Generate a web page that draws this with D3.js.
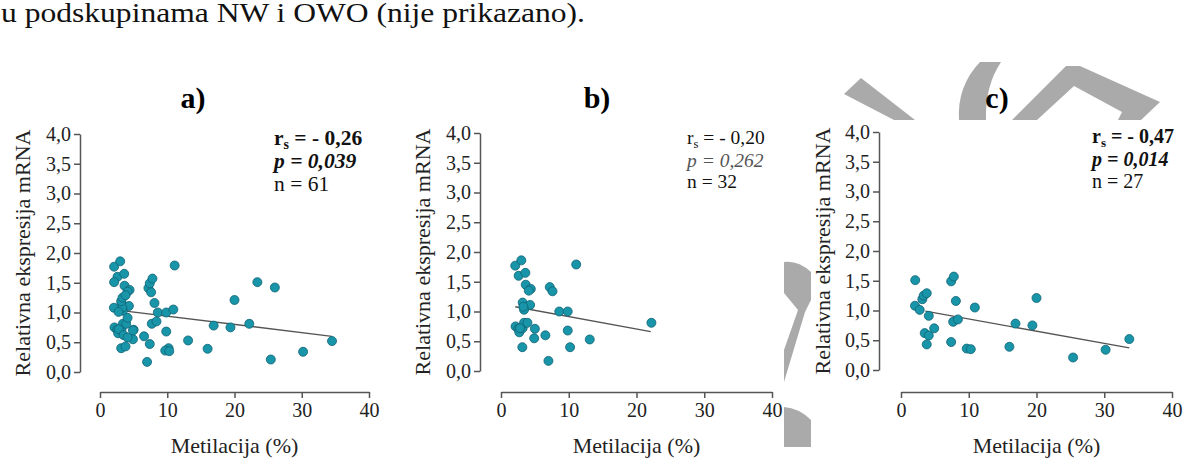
<!DOCTYPE html>
<html>
<head>
<meta charset="utf-8">
<script src="https://cdn.jsdelivr.net/npm/d3@7"></script>
<style>
  body { margin: 0; background: #fff; }
  svg { display: block; }
  svg text { font-family: "Liberation Serif", "Times New Roman", Times, "DejaVu Serif", serif; }
</style>
</head>
<body>
<svg id="chart" width="1187" height="460"></svg>
<script>
// ---- data ----
const topLine = "u podskupinama NW i OWO (nije prikazano).";
const panelTitles = ["a)", "b)", "c)"];
const xTicks = [0, 10, 20, 30, 40];
const yTicks = [0, 0.5, 1, 1.5, 2, 2.5, 3, 3.5, 4];
const xLabel = "Metilacija (%)";
const yLabel = "Relativna ekspresija mRNA";

// panel b: n = 32
const bMet = [2.1, 3.0, 2.6, 3.6, 3.65, 4.4, 4.1, 3.2, 4.3, 3.4, 3.3, 2.15, 2.55, 2.7, 3.2, 3.4,
              3.9, 3.15, 5.0, 4.9, 6.55, 7.0, 7.2, 7.6, 8.6, 9.85, 9.85, 10.2, 11.1, 13.1, 22.2, 2.8];
const bExp = [1.77, 1.86, 1.60, 1.65, 1.45, 1.38, 1.35, 1.15, 1.11, 1.03, 1.08, 0.75, 0.71, 0.65, 0.72, 0.81,
              0.81, 0.40, 0.71, 0.55, 0.60, 0.17, 1.41, 1.34, 1.00, 1.00, 0.68, 0.40, 1.79, 0.53, 0.81, 0.72];

// panel c: n = 27
const cMet = [2.1, 2.07, 2.76, 3.15, 3.35, 3.8, 3.5, 4.1, 3.8, 4.1, 4.9, 7.4, 7.8, 8.1, 7.7, 8.4,
              7.4, 9.7, 10.3, 10.9, 16.0, 16.9, 19.4, 20.0, 25.4, 30.2, 33.7];
const cExp = [1.51, 1.08, 1.01, 1.19, 1.25, 1.29, 0.62, 0.58, 0.43, 0.91, 0.70, 1.49, 1.57, 1.16, 0.81, 0.85,
              0.47, 0.36, 0.35, 1.05, 0.39, 0.78, 0.75, 1.21, 0.21, 0.34, 0.52];

// panel a: n = 61
const aMet = [2.1, 3.0, 2.6, 3.6, 3.65, 4.4, 4.1, 3.2, 4.3, 3.4, 3.3, 2.15, 2.55, 2.7, 3.2, 3.4,
              3.9, 3.15, 5.0, 4.9, 6.55, 7.0, 7.2, 7.6, 8.6, 9.85, 9.85, 10.2, 11.1, 13.1, 22.2, 2.8,
              2.1, 2.07, 2.76, 3.15, 3.35, 3.8, 3.5, 4.1, 3.8, 4.1, 4.9, 7.4, 7.8, 8.1, 7.7, 8.4,
              7.4, 9.7, 10.3, 10.9, 16.0, 16.9, 19.4, 20.0, 25.4, 30.2, 34.5, 23.4, 26.0];
const aExp = [1.77, 1.86, 1.60, 1.65, 1.45, 1.38, 1.35, 1.15, 1.11, 1.03, 1.08, 0.75, 0.71, 0.65, 0.72, 0.81,
              0.81, 0.40, 0.71, 0.55, 0.60, 0.17, 1.41, 1.34, 1.00, 1.00, 0.68, 0.40, 1.79, 0.53, 0.81, 0.72,
              1.51, 1.08, 1.01, 1.19, 1.25, 1.29, 0.62, 0.58, 0.43, 0.91, 0.70, 1.49, 1.57, 1.16, 0.81, 0.85,
              0.47, 0.36, 0.35, 1.05, 0.39, 0.78, 0.75, 1.21, 0.21, 0.34, 0.52, 1.51, 1.42];

// fitted line end points [x, y]
const aFit = [[2.0, 1.05], [34.5, 0.60]];
const bFit = [[2.1, 1.08], [22.1, 0.66]];
const cFit = [[3.6, 0.99], [33.7, 0.37]];

// statistics text
const aStats = ["- 0,26", "0,039", "61"];
const bStats = ["- 0,20", "0,262", "32"];
const cStats = ["- 0,47", "0,014", "27"];

// ---- layout ----
const svg = d3.select("#chart");
const serif = "\"Liberation Serif\", \"Times New Roman\", Times, \"DejaVu Serif\", serif";

// watermark pieces (grey, partly hidden behind the figure)
const wm = svg.append("g").attr("fill", "#aaaaaa").attr("fill-rule", "evenodd");
wm.append("path").attr("d", "M844,94 L861,78 L915,120 L894,120 Z");
wm.append("path").attr("d", "M980,62 L1001,62 Q985,86 986,120 L959,120 Q957,86 980,62 Z");
wm.append("path").attr("d", "M1012,120 L1066,66 L1080,66 L1160,102 L1141,120 Z M1037,120 L1074,86 L1122,112 L1118,120 Z");
wm.append("path").attr("d", "M784,262 Q798,260 811,272 L811,300 L805,312 L784,382 L784,350 L798,310 L784,293 Z");
wm.append("path").attr("d", "M784,407 Q799,408 811,420 L811,447 L784,447 Z");

svg.append("text")
  .attr("x", 1).attr("y", 22)
  .attr("font-family", serif).attr("font-size", 27).attr("fill", "#111")
  .attr("textLength", 584).attr("lengthAdjust", "spacingAndGlyphs")
  .text(topLine);

const panels = [
  { title: panelTitles[0], xs: aMet, ys: aExp, fit: aFit, stats: aStats, bold: true, fs: 21.5,
    sy: [145, 168, 191],
    yAx: 80, x0: 100, x1: 369, yB: 372, yT: 134, xAxY: 392, sx: 274, tx: 193, lx: 30 },
  { title: panelTitles[1], xs: bMet, ys: bExp, fit: bFit, stats: bStats, bold: false, fs: 19.5,
    sy: [144, 167, 188],
    yAx: 480, x0: 501, x1: 772, yB: 371, yT: 133, xAxY: 392, sx: 687, tx: 597, lx: 430 },
  { title: panelTitles[2], xs: cMet, ys: cExp, fit: cFit, stats: cStats, bold: true, fs: 20,
    sy: [143, 166, 188],
    yAx: 879, x0: 901, x1: 1172, yB: 370, yT: 132, xAxY: 392, sx: 1092, tx: 997, lx: 830 }
];

const fmt = d => d3.format(".1f")(d).replace(".", ",");

panels.forEach(p => {
  const g = svg.append("g").attr("font-family", serif);
  const x = d3.scaleLinear().domain([0, 40]).range([p.x0, p.x1]);
  const y = d3.scaleLinear().domain([0, 4]).range([p.yB, p.yT]);

  // Y axis
  const ya = g.append("g")
    .attr("transform", "translate(" + p.yAx + ",0)")
    .call(d3.axisLeft(y).tickValues(yTicks).tickFormat(fmt).tickSize(6).tickSizeOuter(0).tickPadding(3));
  // X axis
  const xa = g.append("g")
    .attr("transform", "translate(0," + p.xAxY + ")")
    .call(d3.axisBottom(x).tickValues(xTicks).tickSize(6).tickSizeOuter(0).tickPadding(5));
  [ya, xa].forEach(a => {
    a.attr("font-family", serif).attr("font-size", 20);
    a.selectAll("path, line").attr("stroke", "#555").attr("stroke-width", 1.5);
    a.selectAll("text").attr("fill", "#222");
  });

  // fit line
  g.append("line")
    .attr("x1", x(p.fit[0][0])).attr("y1", y(p.fit[0][1]))
    .attr("x2", x(p.fit[1][0])).attr("y2", y(p.fit[1][1]))
    .attr("stroke", "#555").attr("stroke-width", 1.3);

  // dots
  g.append("g")
    .selectAll("circle")
    .data(p.xs.map((v, i) => [v, p.ys[i]]))
    .enter()
    .append("circle")
    .attr("cx", d => x(d[0]))
    .attr("cy", d => y(d[1]))
    .attr("r", 4.5)
    .attr("fill", "#1995aa")
    .attr("stroke", "#0f6272")
    .attr("stroke-width", 0.8);

  // titles
  g.append("text")
    .attr("x", p.tx).attr("y", 108).attr("text-anchor", "middle")
    .attr("font-size", 30).attr("font-weight", "bold")
    .text(p.title);

  g.append("text")
    .attr("x", (p.x0 + p.x1) / 2).attr("y", 453).attr("text-anchor", "middle")
    .attr("font-size", 22).attr("fill", "#222")
    .text(xLabel);

  g.append("text")
    .attr("transform", "translate(" + p.lx + "," + ((p.yB + p.yT) / 2) + ") rotate(-90)")
    .attr("text-anchor", "middle")
    .attr("font-size", 22).attr("fill", "#222")
    .text(yLabel);

  // statistics
  const st = g.append("g")
    .attr("font-size", p.fs)
    .attr("font-weight", p.bold ? "bold" : "normal");
  const r = st.append("text").attr("x", p.sx).attr("y", p.sy[0]).attr("fill", "#111");
  r.append("tspan").text("r");
  r.append("tspan").attr("dy", 4).attr("font-size", p.fs * 0.65).text("s");
  r.append("tspan").attr("dy", -4).text(" = " + p.stats[0]);
  const pt = st.append("text").attr("x", p.sx).attr("y", p.sy[1])
    .attr("font-style", "italic").attr("fill", p.bold ? "#111" : "#555");
  pt.append("tspan").text("p");
  pt.append("tspan").text(" = " + p.stats[1]);
  st.append("text").attr("x", p.sx).attr("y", p.sy[2]).attr("fill", "#111")
    .attr("font-weight", "normal")
    .text("n = " + p.stats[2]);
});
</script>
</body>
</html>
